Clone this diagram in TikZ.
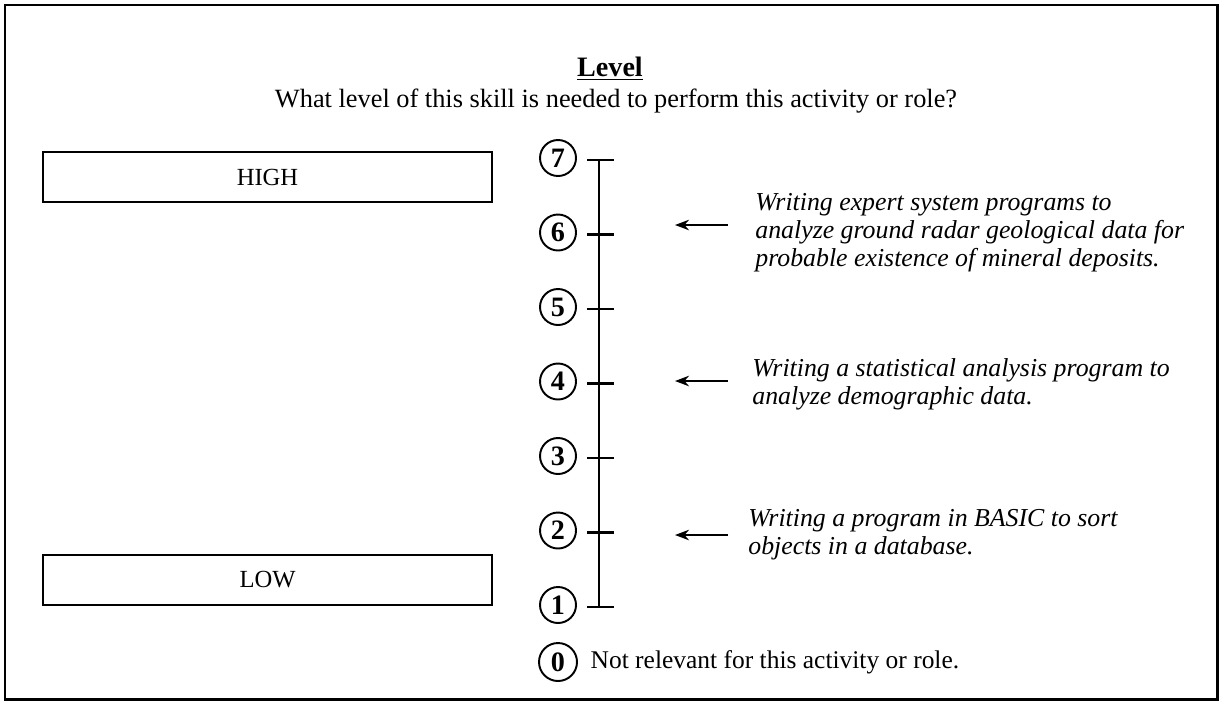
\documentclass[tikz,border=0pt]{standalone}
\usepackage{fontspec}
\setmainfont{Liberation Serif}
\usetikzlibrary{positioning, arrows.meta}

\begin{document}
\begin{tikzpicture}[x=0.02cm, y=-0.02cm,
  levelbox/.style={rectangle, draw, line width=0.9pt, minimum width=8.98cm, minimum height=1cm, font=\fontsize{14}{16}\selectfont},
  lvl/.style={circle, draw, line width=1.1pt, inner sep=0pt, minimum size=0.72cm, font=\bfseries\fontsize{16}{17}\selectfont},
  desc/.style={anchor=west, align=left, inner sep=0pt, font=\itshape\fontsize{14.7}{16}\selectfont},
  pointer/.style={-{Stealth[length=8pt, width=6pt]}, line width=1.1pt}
]
  \useasboundingbox (0,0) rectangle (1222,704);
  \draw[line width=1.7pt] (5,5) rectangle (1217,699);

  % heading
  \node[font=\bfseries\fontsize{16}{18}\selectfont] (title) at (610,69) {\underline{Level}};
  \node[font=\fontsize{15}{17}\selectfont] (question) at (616,101)
    {What level of this skill is needed to perform this activity or role?};

  % anchor boxes
  \node[levelbox] (high) at (267.5,177) {HIGH};
  \node[levelbox] (low) at (267.5,580) {LOW};

  % scale
  \foreach \i in {1,...,7} {
    \coordinate (t\i) at (599,{607-(\i-1)*74.5});
    \node[lvl] (c\i) at (558,{605-(\i-1)*74.5}) {\i};
    \draw[line width=1.2pt] (587,{607-(\i-1)*74.5}) -- (614,{607-(\i-1)*74.5});
  }
  \draw[line width=1.2pt] (t1) -- (t7);

  % examples
  \node[desc] (ex6) at (755,233) {Writing expert system programs to\\
    analyze ground radar geological data for\\
    probable existence of mineral deposits.};
  \node[desc] (ex4) at (752,384) {Writing a statistical analysis program to\\
    analyze demographic data.};
  \node[desc] (ex2) at (748,535) {Writing a program in BASIC to sort\\
    objects in a database.};

  \coordinate (p6s) at (728,225);  \coordinate (p6e) at (675,225);
  \coordinate (p4s) at (728,381);  \coordinate (p4e) at (675,381);
  \coordinate (p2s) at (728,535);  \coordinate (p2e) at (675,535);
  \draw[pointer] (p6s) -- (p6e);
  \draw[pointer] (p4s) -- (p4e);
  \draw[pointer] (p2s) -- (p2e);

  % not relevant
  \node[lvl, minimum size=0.76cm] (c0) at (558,662) {0};
  \node[inner sep=0pt, font=\fontsize{14.5}{16}\selectfont, right=7pt of c0] (none)
    {Not relevant for this activity or role.};
\end{tikzpicture}
\end{document}
